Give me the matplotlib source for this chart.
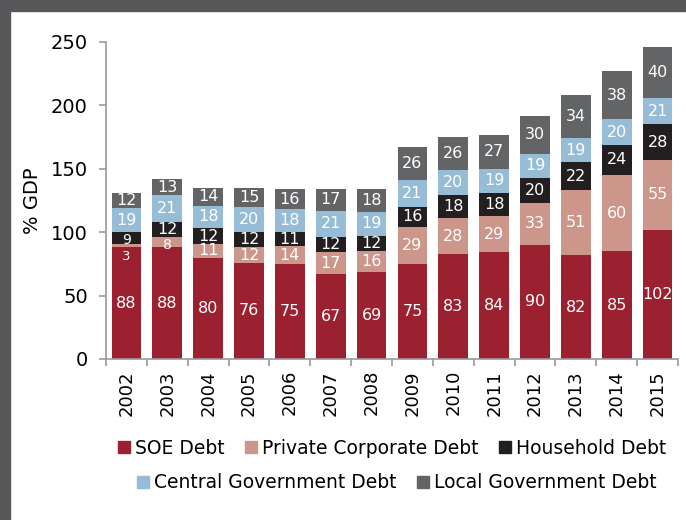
import numpy as np
import matplotlib
matplotlib.use("Agg")
import matplotlib.pyplot as plt
from matplotlib.patches import Rectangle
from matplotlib.lines import Line2D

years = ["2002", "2003", "2004", "2005", "2006", "2007", "2008",
         "2009", "2010", "2011", "2012", "2013", "2014", "2015"]
soe = [88, 88, 80, 76, 75, 67, 69, 75, 83, 84, 90, 82, 85, 102]
private = [3, 8, 11, 12, 14, 17, 16, 29, 28, 29, 33, 51, 60, 55]
household = [9, 12, 12, 12, 11, 12, 12, 16, 18, 18, 20, 22, 24, 28]
central = [19, 21, 18, 20, 18, 21, 19, 21, 20, 19, 19, 19, 20, 21]
local = [12, 13, 14, 15, 16, 17, 18, 26, 26, 27, 30, 34, 38, 40]

SERIES = [
    ("SOE Debt", soe, "#9b2030"),
    ("Private Corporate Debt", private, "#cc968a"),
    ("Household Debt", household, "#231f20"),
    ("Central Government Debt", central, "#96bcd6"),
    ("Local Government Debt", local, "#636466"),
]

plt.rcParams["font.family"] = ["DejaVu Sans"]
AXIS_GRAY = "#9a9a9a"

fig = plt.figure(figsize=(6.86, 5.2), dpi=100)
fig.patch.set_facecolor("white")

# dark frame on top and left edges
fig.patches.append(Rectangle((0, 1 - 11 / 520), 1, 11 / 520, transform=fig.transFigure,
                             color="#58585a", zorder=0))
fig.patches.append(Rectangle((0, 0), 10 / 686, 1, transform=fig.transFigure,
                             color="#58585a", zorder=0))

ax = fig.add_axes([106 / 686, 1 - 359 / 520, (678 - 106) / 686, (359 - 42) / 520])

x = np.arange(len(years))
bottom = np.zeros(len(years))
for name, vals, color in SERIES:
    vals = np.array(vals, dtype=float)
    ax.bar(x, vals, 0.73, bottom=bottom, color=color, label=name, clip_on=False)
    for xi, b, v in zip(x, bottom, vals):
        # thin slices: smaller label, nudged down so it clears the one above
        if v < 5:
            y, fs = b + v / 2 - 9, 9.5
        elif v < 10:
            y, fs = b + v / 2 - 2, 10
        else:
            y, fs = b + v / 2, 11.5
        ax.text(xi, y, f"{int(v)}", ha="center", va="center",
                color="white", fontsize=fs)
    bottom += vals

ax.set_xlim(-0.5, 13.5)
ax.set_ylim(0, 250)
ax.set_yticks([0, 50, 100, 150, 200, 250])
ax.tick_params(axis="y", labelsize=14, color=AXIS_GRAY, length=5, width=1.2, pad=8)
ax.set_xticks(x)
ax.set_xticklabels(years, rotation=90, fontsize=13)
ax.set_xticks(np.arange(-0.5, 14, 1), minor=True)
ax.tick_params(axis="x", which="major", length=0, pad=8)
ax.tick_params(axis="x", which="minor", length=5, color=AXIS_GRAY, width=1.2)
for side in ["top", "right"]:
    ax.spines[side].set_visible(False)
for side in ["left", "bottom"]:
    ax.spines[side].set_color(AXIS_GRAY)
    ax.spines[side].set_linewidth(1.2)
ax.set_ylabel("% GDP", fontsize=14, labelpad=6)

def handles(items):
    return [Line2D([0], [0], marker="s", linestyle="", markersize=8,
                   markerfacecolor=c, markeredgecolor=c) for _, _, c in items]

row1 = SERIES[:3]
row2 = SERIES[3:]
leg1 = fig.legend(handles(row1), [n for n, _, _ in row1], loc="center",
                  bbox_to_anchor=(392 / 686, 1 - 448 / 520), ncol=3, frameon=False,
                  fontsize=13.5, handlelength=0.6, handletextpad=0.3, columnspacing=1.1)
leg2 = fig.legend(handles(row2), [n for n, _, _ in row2], loc="center",
                  bbox_to_anchor=(397 / 686, 1 - 483 / 520), ncol=2, frameon=False,
                  fontsize=13.5, handlelength=0.6, handletextpad=0.3, columnspacing=1.1)

fig.savefig("out.png", dpi=100)
